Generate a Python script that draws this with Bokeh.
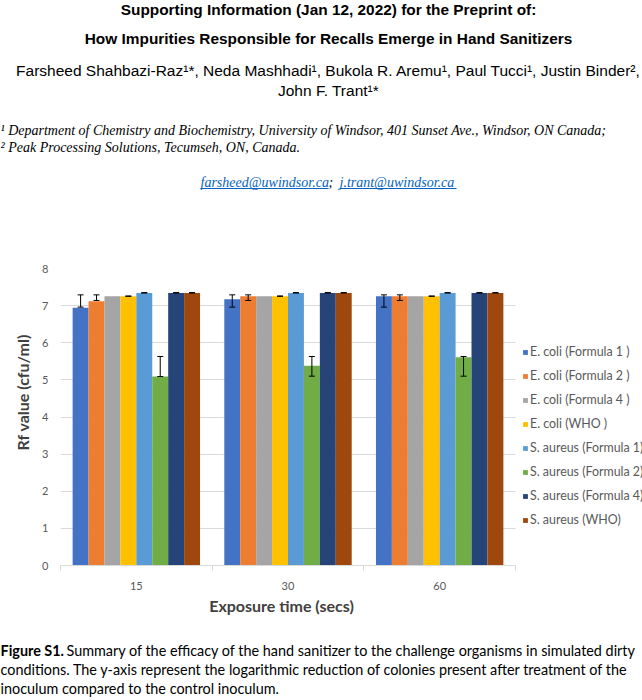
import math
import numpy as np
from bokeh.plotting import figure
from bokeh.layouts import column, row
from bokeh.models import (Range1d, FixedTicker, Label, Legend, LegendItem, Whisker,
                          ColumnDataSource, TeeHead)
from bokeh.embed import file_html
from bokeh.resources import INLINE

# ---------------- data ----------------
exposure = ["15", "30", "60"]
series = ["E. coli (Formula 1 )", "E. coli (Formula 2 )", "E. coli (Formula 4 )", "E. coli (WHO )",
          "S. aureus (Formula 1)", "S. aureus (Formula 2)", "S. aureus (Formula 4)", "S. aureus (WHO)"]
colors = ["#4472C4", "#ED7D31", "#A5A5A5", "#FFC000", "#5B9BD5", "#70AD47", "#264478", "#9E480E"]

ecoli_f1 = [6.94, 7.17, 7.25]
ecoli_f2 = [7.12, 7.25, 7.25]
ecoli_f4 = [7.25, 7.25, 7.25]
ecoli_who = [7.25, 7.25, 7.25]
saureus_f1 = [7.34, 7.34, 7.34]
saureus_f2 = [5.09, 5.38, 5.61]
saureus_f4 = [7.34, 7.34, 7.34]
saureus_who = [7.34, 7.34, 7.34]

# error bars (lower, upper); None = no error bar
ecoli_f1_err = ([6.96, 6.96, 6.96], [7.29, 7.29, 7.29])
ecoli_f2_err = ([7.14, 7.14, 7.14], [7.29, 7.29, 7.29])
ecoli_f4_err = None
ecoli_who_err = ([7.25, 7.25, 7.25], [7.26, 7.26, 7.26])
saureus_f1_err = ([7.34, 7.34, 7.34], [7.35, 7.35, 7.35])
saureus_f2_err = ([5.09, 5.10, 5.10], [5.63, 5.63, 5.63])
saureus_f4_err = ([7.34, 7.34, 7.34], [7.35, 7.35, 7.35])
saureus_who_err = ([7.34, 7.34, 7.34], [7.35, 7.35, 7.35])

values = [ecoli_f1, ecoli_f2, ecoli_f4, ecoli_who, saureus_f1, saureus_f2, saureus_f4, saureus_who]
errors = [ecoli_f1_err, ecoli_f2_err, ecoli_f4_err, ecoli_who_err,
          saureus_f1_err, saureus_f2_err, saureus_f4_err, saureus_who_err]
y_ticks = list(range(0, 9))

# ---------------- layout sizes ----------------
W = 642
TOP_H, MID_H, BOT_H = 256, 336, 108
LEFT_W = 38
CHART_W = W - LEFT_W
MID_TOP = TOP_H
BOT_TOP = TOP_H + MID_H
PLOT_L, PLOT_R, PLOT_T, PLOT_B = 60, 515, 268, 568   # page pixels of the bar area

CAL = "Lato"
ARIAL = "Liberation Sans"
TIMES = "Liberation Serif"
GRAY = "#595959"
TITLE_GRAY = "#404040"


def blank(width, height):
    f = figure(width=width, height=height, x_range=Range1d(0, width), y_range=Range1d(height, 0),
               output_backend="svg", toolbar_location=None, min_border=0,
               min_border_left=0, min_border_right=0, min_border_top=0, min_border_bottom=0)
    f.axis.visible = False
    f.grid.visible = False
    f.outline_line_color = None
    return f


def txt(f, x, y, s, size, font=ARIAL, style="normal", color="#000000",
        align="left", baseline="middle", angle=0.0):
    f.add_layout(Label(x=x, y=y, text=s, text_font=font, text_font_size=size,
                       text_font_style=style, text_color=color, text_align=align,
                       text_baseline=baseline, angle=angle))


# ---------------- top text block ----------------
top = blank(W, TOP_H)
txt(top, 328, 9, "Supporting Information (Jan 12, 2022) for the Preprint of:", "15.4px", ARIAL, "bold", align="center")
txt(top, 328, 38, "How Impurities Responsible for Recalls Emerge in Hand Sanitizers", "15.4px", ARIAL, "bold", align="center")
txt(top, 328, 70, "Farsheed Shahbazi-Raz\u00b9*, Neda Mashhadi\u00b9, Bukola R. Aremu\u00b9, Paul Tucci\u00b9, Justin Binder\u00b2,",
    "15.5px", ARIAL, align="center")
txt(top, 328, 90, "John F. Trant\u00b9*", "15.5px", ARIAL, align="center")
txt(top, 0, 130, "\u00b9 Department of Chemistry and Biochemistry, University of Windsor, 401 Sunset Ave., Windsor, ON Canada;",
    "14px", TIMES, "italic")
txt(top, 0, 147, "\u00b2 Peak Processing Solutions, Tecumseh, ON, Canada.", "14px", TIMES, "italic")
LINK = "#0563C1"
txt(top, 200, 182, "farsheed@uwindsor.ca", "14px", TIMES, "italic", color=LINK)
txt(top, 328, 182, ";", "14px", TIMES, "italic")
txt(top, 339, 182, "j.trant@uwindsor.ca", "14px", TIMES, "italic", color=LINK)
top.segment(x0=[200, 339], y0=[188, 188], x1=[328, 456], y1=[188, 188], line_color=LINK, line_width=1)

# ---------------- y title strip ----------------
left = blank(LEFT_W, MID_H)
txt(left, 22, 396 - MID_TOP, "Rf value (cfu/ml)", "16px", CAL, "bold", color=TITLE_GRAY,
    align="center", angle=math.pi / 2)

# ---------------- chart ----------------
xs = np.arange(len(exposure), dtype=float)
x_lo, x_hi = -0.5, len(exposure) - 0.5
cat_px = (PLOT_R - PLOT_L) / (x_hi - x_lo)
x_end = x_hi + (W - PLOT_R) / cat_px        # frame continues under the legend

p = figure(width=CHART_W, height=MID_H, x_range=Range1d(x_lo, x_end), y_range=Range1d(0, 8),
           output_backend="svg", toolbar_location=None,
           min_border_left=PLOT_L - LEFT_W, min_border_right=0,
           min_border_top=PLOT_T - MID_TOP, min_border_bottom=MID_TOP + MID_H - PLOT_B)
p.outline_line_color = None

group_w = 0.84
bar_w = group_w / len(series)

items = []
for j, (name, vals, col, err) in enumerate(zip(series, values, colors, errors)):
    xj = xs + (j - (len(series) - 1) / 2) * bar_w
    src = ColumnDataSource(dict(x=xj, top=vals))
    r = p.vbar(x="x", top="top", width=bar_w, bottom=0, source=src, fill_color=col, line_color=None)
    items.append(LegendItem(label=name, renderers=[r]))
    if err is not None:
        esrc = ColumnDataSource(dict(x=xj, lo=err[0], hi=err[1]))
        p.add_layout(Whisker(base="x", lower="lo", upper="hi", source=esrc, dimension="height",
                             level="overlay", line_color="#000000", line_width=1,
                             upper_head=TeeHead(size=6, line_color="#000000", line_width=1),
                             lower_head=TeeHead(size=6, line_color="#000000", line_width=1)))

p.yaxis.ticker = FixedTicker(ticks=y_ticks)
p.yaxis.axis_line_color = None
p.yaxis.major_tick_line_color = None
p.yaxis.minor_tick_line_color = None
p.yaxis.major_tick_out = 0
p.yaxis.major_tick_in = 0
p.yaxis.major_label_standoff = 12
p.yaxis.major_label_text_font = CAL
p.yaxis.major_label_text_font_size = "11px"
p.yaxis.major_label_text_color = GRAY

p.xaxis.ticker = FixedTicker(ticks=list(xs), minor_ticks=list(xs - 0.5) + [xs[-1] + 0.5])
p.xaxis.bounds = (x_lo, x_hi)
p.xaxis.major_label_overrides = {i: lab for i, lab in enumerate(exposure)}
p.xaxis.axis_line_color = "#D9D9D9"
p.xaxis.major_tick_line_color = None
p.xaxis.major_tick_out = 0
p.xaxis.major_tick_in = 0
p.xaxis.minor_tick_line_color = "#D9D9D9"
p.xaxis.minor_tick_out = 5
p.xaxis.minor_tick_in = 0
p.xaxis.major_label_standoff = 11
p.xaxis.major_label_text_font = CAL
p.xaxis.major_label_text_font_size = "11px"
p.xaxis.major_label_text_color = GRAY

p.xgrid.grid_line_color = None
p.ygrid.ticker = FixedTicker(ticks=y_ticks)
try:
    p.ygrid.cross_bounds = (x_lo, x_hi)
    p.ygrid.grid_line_color = "#D9D9D9"
except Exception:
    p.ygrid.grid_line_color = None
    p.segment(x0=[x_lo] * len(y_ticks), x1=[x_hi] * len(y_ticks), y0=y_ticks, y1=y_ticks,
              line_color="#D9D9D9", line_width=1, level="underlay")

legend = Legend(items=items, location=(522 - PLOT_L, PLOT_B - 533), glyph_width=6, glyph_height=6,
                label_standoff=2, spacing=3, label_height=21, padding=0, margin=0,
                border_line_color=None, background_fill_alpha=0,
                label_text_font=CAL, label_text_font_size="12.4px", label_text_color=GRAY)
p.add_layout(legend)

# ---------------- bottom text block ----------------
bot = blank(W, BOT_H)
txt(bot, 281, 605 - BOT_TOP, "Exposure time (secs)", "16px", CAL, "bold", color=TITLE_GRAY, align="center")
CAP = "14.4px"
txt(bot, 0, 650 - BOT_TOP, "Figure S1.", CAP, CAL, "bold")
txt(bot, 66, 650 - BOT_TOP, "Summary of the efficacy of the hand sanitizer to the challenge organisms in simulated dirty", CAP, CAL)
txt(bot, 0, 669 - BOT_TOP, "conditions. The y-axis represent the logarithmic reduction of colonies present after treatment of the", CAP, CAL)
txt(bot, 0, 688 - BOT_TOP, "inoculum compared to the control inoculum.", CAP, CAL)

layout = column(top, row(left, p), bot)
open("out.html", "w").write(file_html(layout, INLINE))
